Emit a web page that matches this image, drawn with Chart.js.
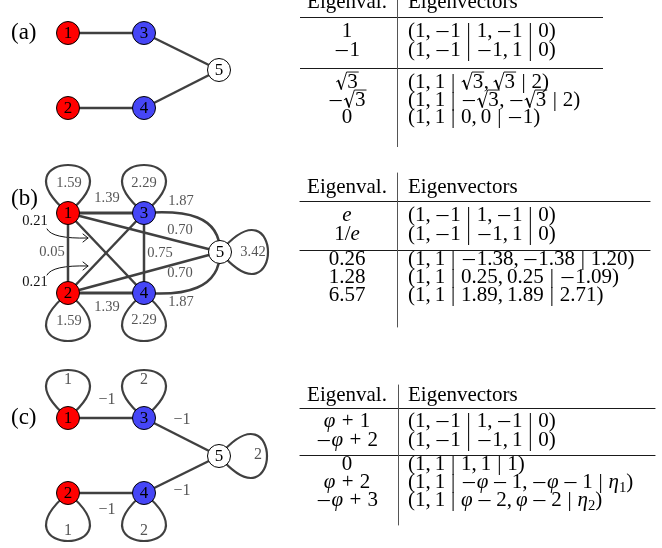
<!DOCTYPE html>
<html>
<head>
<meta charset="utf-8">
<script src="https://cdn.jsdelivr.net/npm/chart.js@4.4.1/dist/chart.umd.min.js"></script>
<style>
  html, body { margin: 0; padding: 0; background: #fff; }
  canvas { display: block; }
</style>
</head>
<body>
<canvas id="fig" width="662" height="548"></canvas>
<script>
// ---------- data ----------
const nodeIds = [1, 2, 3, 4, 5];
const nodeGroups = ['red', 'red', 'blue', 'blue', 'hub'];

// graph (a) and (c): a path 1-3-5-4-2
const edgesPath = [[1, 3], [3, 5], [2, 4], [4, 5]];
// graph (b): straight edges, then the two curved ones
const edgesB = [[1, 3], [2, 4], [1, 2], [3, 4], [1, 4], [2, 3], [1, 5], [2, 5]];
const curvedEdgesB = [[3, 5], [4, 5]];

const edgeWeightsB = ['1.39', '1.39', '0.05', '0.75', '0.70', '0.70']; // 1-3, 2-4, 1-2, 3-4, 1-5, 2-5
const curvedWeightsB = ['1.87', '1.87'];                              // 3-5, 4-5
const crossWeightsB = ['0.21', '0.21'];                               // 1-4, 2-3
const loopWeightsB = ['1.59', '1.59', '2.29', '2.29', '3.42'];         // nodes 1..5
const edgeWeightsC = ['−1', '−1', '−1', '−1'];                        // 1-3, 3-5, 2-4, 4-5
const loopWeightsC = ['1', '1', '2', '2', '2'];                       // nodes 1..5

const panelTags = ['(a)', '(b)', '(c)'];
const headEigval = 'Eigenval.';
const headEigvec = 'Eigenvectors';

const eigvalA = ['1', '−1', '√{3}', '−√{3}', '0'];
const eigvecA = ['(1,~−1 | 1,~−1 | 0)', '(1,~−1 | −1,~1 | 0)', '(1,~1 | √{3},~√{3} | 2)',
                 '(1,~1 | −√{3},~−√{3} | 2)', '(1,~1 | 0,~0 | −1)'];
const eigvalB = ['*e*', '1/*e*', '0.26', '1.28', '6.57'];
const eigvecB = ['(1,~−1 | 1,~−1 | 0)', '(1,~−1 | −1,~1 | 0)', '(1,~1 | −1.38,~−1.38 | 1.20)',
                 '(1,~1 | 0.25,~0.25 | −1.09)', '(1,~1 | 1.89,~1.89 | 2.71)'];
const eigvalC = ['*φ*~+~1', '−*φ*~+~2', '0', '*φ*~+~2', '−*φ*~+~3'];
const eigvecC = ['(1,~−1 | 1,~−1 | 0)', '(1,~−1 | −1,~1 | 0)', '(1,~1 | 1,~1 | 1)',
                 '(1,~1 | −*φ*~−~1,~−*φ*~−~1 | *η*_{1})', '(1,~1 | *φ*~−~2,~*φ*~−~2 | *η*_{2})'];

// ---------- layout (figure units) ----------
const layout = {
  a: { pos: {1: [68, 33], 2: [68, 108], 3: [144, 33], 4: [144, 108], 5: [219, 70]}, tag: [11, 39] },
  b: { pos: {1: [68, 213], 2: [68, 293], 3: [144, 213], 4: [144, 293], 5: [220, 252]}, tag: [11, 205] },
  c: { pos: {1: [68, 418], 2: [68, 493], 3: [144, 418], 4: [144, 493], 5: [219, 456]}, tag: [11, 424] }
};
const loopDirs = {1: [0, -1], 2: [0, 1], 3: [0, -1], 4: [0, 1], 5: [1, 0]};
const labelPosB = {
  edges: [[107, 198], [107, 307], [52, 252], [160, 253], [180, 230], [180, 273]],
  curved: [[181, 201], [181, 302]],
  cross: [[35, 221], [35, 282]],
  crossArrows: [ [[47, 229], [52, 239], [88, 238]], [[47, 275], [52, 265], [88, 266]] ],
  loops: [[69, 183], [69, 321], [144, 183], [144, 320], [253, 252]]
};
const labelPosC = {
  edges: [[107, 400], [182, 420], [107, 510], [182, 491]],
  loops: [[68, 380], [68, 531], [144, 380], [144, 531], [258, 455]]
};
const tableLayout = [
  { top: 0,   bottom: 147, left: 300, right: 603, rule: 397, headBase: 8,   headLine: 17,  sep: 68,  rows: [37, 56, 88, 106, 123] },
  { top: 173, bottom: 327, left: 300, right: 650, rule: 397, headBase: 193, headLine: 201, sep: 250, rows: [221, 240, 265, 283, 301] },
  { top: 385, bottom: 525, left: 300, right: 655, rule: 398, headBase: 401, headLine: 408, sep: 455, rows: [427, 446, 470, 488, 506] }
];
const tableCols = { valCenter: 347, vecLeft: 408 };

// ---------- styles ----------
const EDGE = '#404040';
const NODE_FILL = { red: '#ff0000', blue: '#4646f6', hub: '#ffffff' };
const SERIF = '"Liberation Serif", "Times New Roman", serif';
const NODE_R = 11.5;
const TABLE_FONT = 21;

// ---------- datasets ----------
function edgeDatasets(panel, edges, width) {
  const p = layout[panel].pos;
  return edges.map(([u, v]) => ({
    data: [{x: p[u][0], y: p[u][1]}, {x: p[v][0], y: p[v][1]}],
    showLine: true, borderColor: EDGE, borderWidth: width, pointRadius: 0,
    pointHoverRadius: 0, order: 5
  }));
}
function nodeDatasets(panel) {
  const p = layout[panel].pos;
  return ['red', 'blue', 'hub'].map(g => ({
    data: nodeIds.filter((id, i) => nodeGroups[i] === g).map(id => ({x: p[id][0], y: p[id][1], id})),
    showLine: false, pointRadius: NODE_R, pointHoverRadius: NODE_R,
    pointBackgroundColor: NODE_FILL[g], pointBorderColor: '#000', pointBorderWidth: 1, order: 0
  }));
}

const datasets = [
  ...edgeDatasets('a', edgesPath, 2.5),
  ...edgeDatasets('b', edgesB.slice(0, 2), 3),
  ...edgeDatasets('b', edgesB.slice(2), 2.5),
  ...edgeDatasets('c', edgesPath, 2.5),
  ...nodeDatasets('a'), ...nodeDatasets('b'), ...nodeDatasets('c')
];

// ---------- math-style text: *italic*, √{radicand}, _{subscript}, ~ thin gap ----------
function parseRich(str) {
  const out = [];
  let italic = false, i = 0;
  while (i < str.length) {
    const ch = str[i];
    if (ch === '*') { italic = !italic; i++; continue; }
    if (ch === '~') { out.push({gap: 0.19}); i++; continue; }
    if (ch === ' ') { out.push({gap: 0.278}); i++; continue; }
    if (ch === '√' && str[i + 1] === '{') { const j = str.indexOf('}', i); out.push({sqrt: str.slice(i + 2, j)}); i = j + 1; continue; }
    if (ch === '_' && str[i + 1] === '{') { const j = str.indexOf('}', i); out.push({t: str.slice(i + 2, j), sub: true}); i = j + 1; continue; }
    if (ch === '−') { out.push({minus: true}); i++; continue; }
    out.push({t: ch, italic, pad: ch === '+' ? 0.107 : 0}); i++;
  }
  return out;
}
const fontOf = (it, s) => `${it ? 'italic ' : ''}${s}px ${SERIF}`;
const at = (y, s, f) => y + f * s;
function drawRich(ctx, str, x, y, size, align, color) {
  const toks = parseRich(str);
  const widths = toks.map(tk => {
    if (tk.gap) return tk.gap * size;
    if (tk.minus) return 0.74 * size;
    if (tk.sqrt) { ctx.font = fontOf(false, size); return size * 0.55 + ctx.measureText(tk.sqrt).width + size * 0.03; }
    if (tk.sub) { ctx.font = fontOf(false, size * 0.7); return ctx.measureText(tk.t).width; }
    ctx.font = fontOf(tk.italic, size); return ctx.measureText(tk.t).width + 2 * tk.pad * size;
  });
  const total = widths.reduce((a, b) => a + b, 0);
  let cx = align === 'center' ? x - total / 2 : x;
  ctx.fillStyle = color; ctx.strokeStyle = color;
  ctx.textAlign = 'left'; ctx.textBaseline = 'alphabetic';
  toks.forEach((tk, k) => {
    if (tk.minus) {
      // math minus: long thin bar on the math axis
      ctx.fillRect(cx + 0.08 * size, Math.round(y - 0.27 * size), 0.58 * size, 1.1);
    } else if (tk.sqrt) {
      const s = size;
      ctx.lineCap = 'round'; ctx.lineJoin = 'round';
      ctx.lineWidth = 0.9;
      ctx.beginPath();
      ctx.moveTo(cx + 0.04 * s, at(y, s, -0.30));
      ctx.lineTo(cx + 0.13 * s, at(y, s, -0.35));
      ctx.stroke();
      ctx.lineWidth = 1.7;
      ctx.beginPath();
      ctx.moveTo(cx + 0.13 * s, at(y, s, -0.35));
      ctx.lineTo(cx + 0.27 * s, at(y, s, 0.04));
      ctx.stroke();
      ctx.lineWidth = 0.9;
      ctx.beginPath();
      ctx.moveTo(cx + 0.27 * s, at(y, s, 0.04));
      ctx.lineTo(cx + 0.52 * s, at(y, s, -0.76));
      ctx.lineTo(cx + widths[k], at(y, s, -0.76));
      ctx.stroke();
      ctx.font = fontOf(false, s);
      ctx.fillText(tk.sqrt, cx + 0.55 * s, y);
    } else if (tk.sub) {
      ctx.font = fontOf(false, size * 0.7);
      ctx.fillText(tk.t, cx, y + size * 0.18);
    } else if (tk.t) {
      ctx.font = fontOf(tk.italic, size);
      ctx.fillText(tk.t, cx + tk.pad * size, y);
    }
    cx += widths[k];
  });
}

// ---------- plugins ----------
function px(chart, pt) {
  return [chart.scales.x.getPixelForValue(pt[0]), chart.scales.y.getPixelForValue(pt[1])];
}

// self-loops, curved edges and pointer arrows, drawn beneath edges and nodes
const underlayPlugin = {
  id: 'underlay',
  beforeDatasetsDraw(chart) {
    const ctx = chart.ctx;
    ctx.save();
    ctx.strokeStyle = EDGE; ctx.lineWidth = 2.2; ctx.lineCap = 'round';
    const loop = (panel, id) => {
      const [cx, cy] = px(chart, layout[panel].pos[id]);
      const [dx, dy] = loopDirs[id];
      const nx = -dy, ny = dx, len = 64, spread = 76;
      ctx.beginPath();
      ctx.moveTo(cx, cy);
      ctx.bezierCurveTo(cx + dx * len + nx * spread, cy + dy * len + ny * spread,
                        cx + dx * len - nx * spread, cy + dy * len - ny * spread, cx, cy);
      ctx.stroke();
    };
    nodeIds.forEach(id => { loop('b', id); loop('c', id); });

    // curved edges 3-5 and 4-5 of (b)
    curvedEdgesB.forEach(([u, v]) => {
      const [x0, y0] = px(chart, layout.b.pos[u]);
      const [x1, y1] = px(chart, layout.b.pos[v]);
      const s = y0 < y1 ? 1 : -1;
      ctx.lineWidth = 2.5;
      ctx.beginPath();
      ctx.moveTo(x0, y0);
      ctx.bezierCurveTo(x0 + 41, y0 - 3 * s, x1, y1 - 37 * s, x1, y1);
      ctx.stroke();
    });

    // thin pointer arrows for the crossing weights
    ctx.strokeStyle = '#111'; ctx.lineWidth = 1;
    labelPosB.crossArrows.forEach(a => {
      const [p0, c, p1] = a.map(pt => px(chart, pt));
      ctx.beginPath();
      ctx.moveTo(p0[0], p0[1]);
      ctx.quadraticCurveTo(c[0], c[1], p1[0], p1[1]);
      ctx.stroke();
      ctx.beginPath();
      ctx.moveTo(p1[0] - 5, p1[1] - 4);
      ctx.lineTo(p1[0], p1[1]);
      ctx.lineTo(p1[0] - 5, p1[1] + 4);
      ctx.stroke();
    });
    ctx.restore();
  }
};

// node numbers, weights and panel tags
const labelPlugin = {
  id: 'labels',
  afterDatasetsDraw(chart) {
    const ctx = chart.ctx;
    ctx.save();
    ctx.textAlign = 'center'; ctx.textBaseline = 'middle';
    ['a', 'b', 'c'].forEach(panel => {
      ctx.font = fontOf(false, 17); ctx.fillStyle = '#000';
      nodeIds.forEach(id => {
        const [x, y] = px(chart, layout[panel].pos[id]);
        ctx.fillText(String(id), x, y + 0.5);
      });
    });
    const put = (txt, pt, size, color) => {
      const [x, y] = px(chart, pt);
      ctx.font = fontOf(false, size); ctx.fillStyle = color;
      ctx.fillText(txt, x, y);
    };
    edgeWeightsB.forEach((w, i) => put(w, labelPosB.edges[i], 14.5, '#555'));
    curvedWeightsB.forEach((w, i) => put(w, labelPosB.curved[i], 14.5, '#555'));
    crossWeightsB.forEach((w, i) => put(w, labelPosB.cross[i], 14.5, '#111'));
    loopWeightsB.forEach((w, i) => put(w, labelPosB.loops[i], 14.5, '#555'));
    edgeWeightsC.forEach((w, i) => put(w, labelPosC.edges[i], 16, '#555'));
    loopWeightsC.forEach((w, i) => put(w, labelPosC.loops[i], 16, '#555'));

    ctx.textAlign = 'left'; ctx.textBaseline = 'alphabetic';
    ctx.font = fontOf(false, 23); ctx.fillStyle = '#000';
    ['a', 'b', 'c'].forEach((panel, i) => {
      const [x, y] = px(chart, layout[panel].tag);
      ctx.fillText(panelTags[i], x, y);
    });
    ctx.restore();
  }
};

// eigen-decomposition tables
const tablePlugin = {
  id: 'tables',
  afterDraw(chart) {
    const ctx = chart.ctx;
    const vals = [eigvalA, eigvalB, eigvalC];
    const vecs = [eigvecA, eigvecB, eigvecC];
    const X = v => chart.scales.x.getPixelForValue(v);
    const Y = v => chart.scales.y.getPixelForValue(v);
    ctx.save();
    tableLayout.forEach((t, k) => {
      ctx.strokeStyle = '#1a1a1a'; ctx.lineWidth = 1.2;
      ctx.beginPath();
      ctx.moveTo(X(t.left), Math.round(Y(t.headLine)) + 0.5); ctx.lineTo(X(t.right), Math.round(Y(t.headLine)) + 0.5);
      ctx.moveTo(X(t.left), Math.round(Y(t.sep)) + 0.5); ctx.lineTo(X(t.right), Math.round(Y(t.sep)) + 0.5);
      ctx.stroke();
      ctx.strokeStyle = '#555'; ctx.lineWidth = 1;
      ctx.beginPath();
      ctx.moveTo(Math.round(X(t.rule)) + 0.5, Y(t.top)); ctx.lineTo(Math.round(X(t.rule)) + 0.5, Y(t.bottom));
      ctx.stroke();
      drawRich(ctx, headEigval, X(tableCols.valCenter), Y(t.headBase), TABLE_FONT, 'center', '#000');
      ctx.font = fontOf(false, TABLE_FONT); ctx.fillStyle = '#000';
      ctx.fillText(headEigvec, X(tableCols.vecLeft), Y(t.headBase));
      vals[k].forEach((v, r) => {
        drawRich(ctx, v, X(tableCols.valCenter), Y(t.rows[r]), TABLE_FONT, 'center', '#000');
        drawRich(ctx, vecs[k][r], X(tableCols.vecLeft), Y(t.rows[r]), TABLE_FONT, 'left', '#000');
      });
    });
    ctx.restore();
  }
};

new Chart(document.getElementById('fig'), {
  type: 'scatter',
  data: { datasets },
  options: {
    responsive: false,
    animation: false,
    events: [],
    layout: { padding: 0, autoPadding: false },
    scales: {
      x: { type: 'linear', min: 0, max: 662, display: false },
      y: { type: 'linear', min: 0, max: 548, reverse: true, display: false }
    },
    plugins: { legend: { display: false }, tooltip: { enabled: false } }
  },
  plugins: [underlayPlugin, labelPlugin, tablePlugin]
});
</script>
</body>
</html>
